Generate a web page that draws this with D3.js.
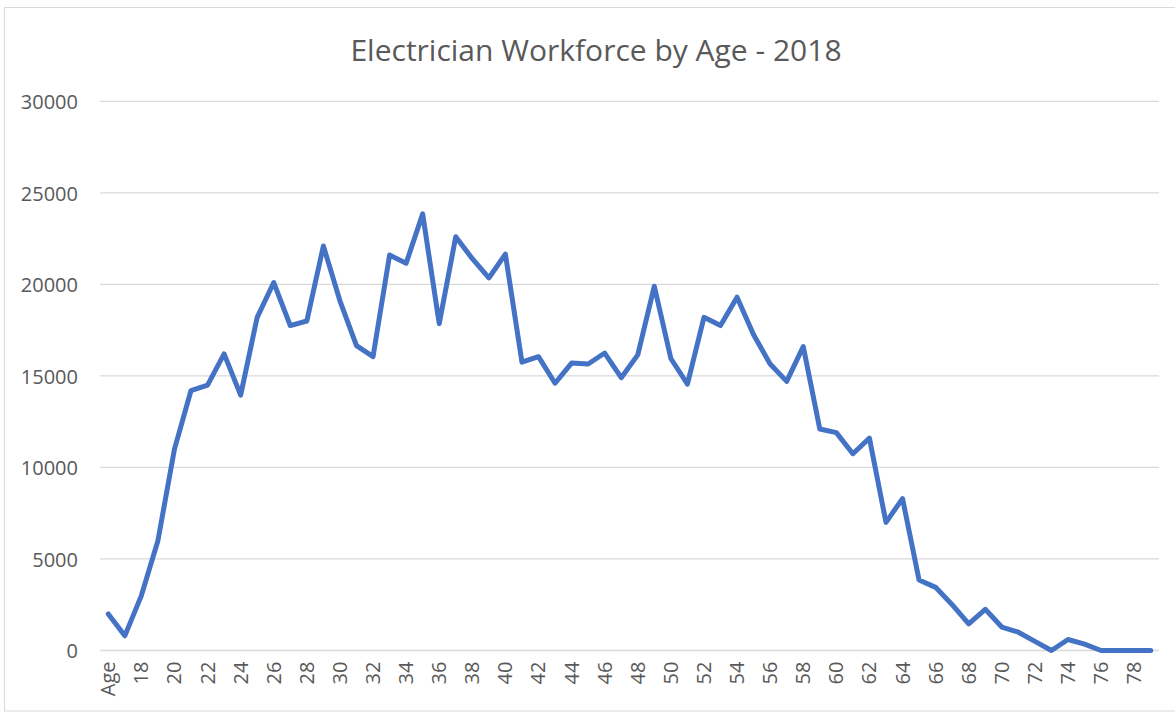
<!DOCTYPE html>
<html lang="en">
<head>
    <meta charset="UTF-8">
    <title>Electrician Workforce by Age - 2018</title>
    <script src="https://d3js.org/d3.v7.min.js"></script>
    <style>
        body { margin: 0; background: #fff; }
        text { font-family: "Open Sans", sans-serif; fill: #595959; }
    </style>
</head>
<body>
    <div id="chart"></div>

    <script>
        // data ------------------------------------------------------------
        const ages = ["Age"];
        for (let a = 17; a <= 79; a++) ages.push(String(a));

        const workers = [
            2000, 800, 3000, 6000, 11000, 14200, 14500, 16200, 13950, 18200,
            20100, 17750, 18000, 22100, 19100, 16650, 16050, 21600, 21150, 23850,
            17850, 22600, 21400, 20350, 21650, 15750, 16050, 14600, 15700, 15650,
            16250, 14900, 16150, 19900, 15950, 14550, 18200, 17750, 19300, 17250,
            15650, 14700, 16600, 12100, 11900, 10750, 11600, 7000, 8300, 3850,
            3450, 2500, 1450, 2250, 1280, 1000, 500, 0, 600, 350,
            0, 0, 0, 0
        ];

        const yTicks = [0, 5000, 10000, 15000, 20000, 25000, 30000];
        const title = "Electrician Workforce by Age - 2018";

        // svg ----------------------------------------------------------------
        const width = 1175, height = 712;
        const svg = d3.select("#chart").append("svg")
            .attr("width", width)
            .attr("height", height);

        // chart frame
        svg.append("rect")
            .attr("x", 4.5)
            .attr("y", 7.5)
            .attr("width", 1200)
            .attr("height", 703.5)
            .attr("fill", "none")
            .attr("stroke", "#D9D9D9")
            .attr("stroke-width", 1);

        const plot = {left: 100, right: 1159, top: 101.3, bottom: 650.5};

        const x = d3.scaleBand().domain(ages).range([plot.left, plot.right]);
        const y = d3.scaleLinear().domain([0, 30000]).range([plot.bottom, plot.top]);

        // gridlines
        svg.append("g")
            .selectAll("line")
            .data(yTicks)
            .join("line")
            .attr("x1", plot.left)
            .attr("x2", plot.right)
            .attr("y1", d => y(d))
            .attr("y2", d => y(d))
            .attr("stroke", "#D9D9D9")
            .attr("stroke-width", 1.3);

        // y axis labels
        const yAxis = svg.append("g")
            .attr("transform", `translate(${plot.left - 22},0)`)
            .call(d3.axisLeft(y).tickValues(yTicks).tickSize(0).tickPadding(0).tickFormat(d3.format("d")));
        yAxis.select(".domain").remove();
        yAxis.selectAll("text")
            .attr("font-size", 20)
            .attr("font-family", null)
            .attr("dy", "0.36em");

        // x axis labels, every second category
        const xAxis = svg.append("g")
            .attr("transform", `translate(0,${plot.bottom + 11})`)
            .call(d3.axisBottom(x).tickValues(ages.filter((d, i) => i % 2 === 0)).tickSize(0).tickPadding(0));
        xAxis.select(".domain").remove();
        xAxis.selectAll("text")
            .attr("font-size", 20)
            .attr("font-family", null)
            .attr("text-anchor", "end")
            .attr("dy", null)
            .attr("y", 0)
            .attr("x", 0)
            .attr("transform", "rotate(-90) translate(0,7)");

        // line
        const line = d3.line()
            .x((d, i) => x(ages[i]) + x.bandwidth() / 2)
            .y(d => y(d));

        svg.append("path")
            .datum(workers)
            .attr("d", line)
            .attr("fill", "none")
            .attr("stroke", "#4472C4")
            .attr("stroke-width", 5)
            .attr("stroke-linejoin", "round")
            .attr("stroke-linecap", "round");

        // title
        svg.append("text")
            .attr("x", 596)
            .attr("y", 61)
            .attr("text-anchor", "middle")
            .attr("font-size", 30)
            .text(title);
    </script>
</body>
</html>
